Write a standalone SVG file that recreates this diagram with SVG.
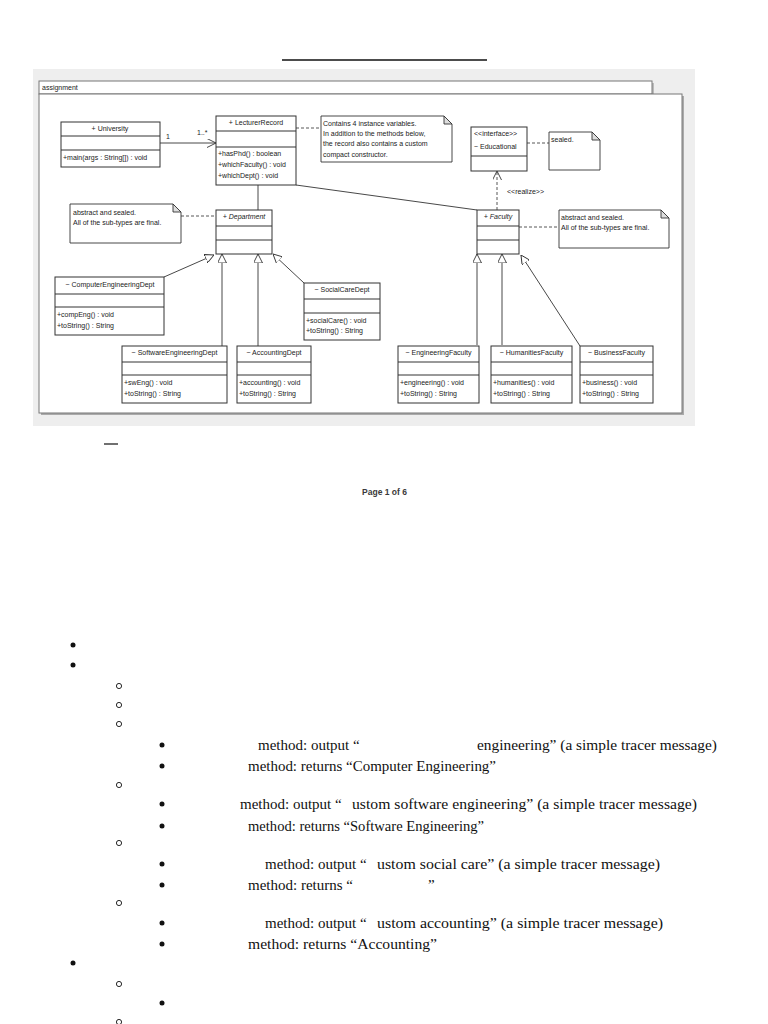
<svg xmlns="http://www.w3.org/2000/svg" width="768" height="1024" viewBox="0 0 768 1024">
<style>
.box{fill:#fff;stroke:#333;stroke-width:1}
.sep{stroke:#333;stroke-width:1}
.t{font-family:"Liberation Sans",Arial,sans-serif;font-size:7px;fill:#222}
.c{text-anchor:middle}
.i{font-style:italic}
.note{fill:#fff;stroke:#333;stroke-width:0.9}
.fold{fill:#ddd;stroke:#333;stroke-width:0.9}
.ln{fill:none;stroke:#333;stroke-width:0.9}
.dash{fill:none;stroke:#444;stroke-width:0.9;stroke-dasharray:3 2}
.s{font-family:"Liberation Serif","Times New Roman",serif;font-size:15px;fill:#111}
.dot{fill:#111}
.ring{fill:none;stroke:#111;stroke-width:0.9}
</style>
<defs>
<marker id="open" viewBox="0 0 10 10" refX="10" refY="5" markerWidth="9" markerHeight="9" markerUnits="userSpaceOnUse" orient="auto">
<path d="M0,0 L10,5 L0,10" fill="none" stroke="#333" stroke-width="1"/>
</marker>
<marker id="tri" viewBox="0 0 10 10" refX="10" refY="5" markerWidth="9" markerHeight="9" markerUnits="userSpaceOnUse" orient="auto">
<path d="M0,0 L10,5 L0,10 Z" fill="#fff" stroke="#333" stroke-width="1"/>
</marker>
</defs>
<rect width="768" height="1024" fill="#fff"/>
<line x1="282" y1="60" x2="487" y2="60" stroke="#111" stroke-width="1.5"/>

<g id="frame">
<rect x="33" y="69" width="662" height="357" fill="#eeeeee"/>
<rect x="41" y="83" width="613" height="13" fill="#bbb"/>
<rect x="41" y="96" width="643" height="319" fill="#aaa"/>
<rect x="39" y="81" width="613" height="13" fill="#fff" stroke="#777" stroke-width="1"/>
<rect x="39" y="94" width="643" height="319" fill="#fff" stroke="#777" stroke-width="1"/>
<text class="t" x="42" y="90">assignment</text>
</g>

<g id="connectors">
<line class="ln" x1="160" y1="143" x2="216" y2="143" marker-end="url(#open)"/>
<text class="t" x="166" y="139">1</text>
<text class="t" x="197" y="135">1..*</text>
<line class="ln" x1="258" y1="185" x2="258" y2="210"/>
<line class="ln" x1="296" y1="185" x2="477" y2="210"/>
<line class="dash" x1="296" y1="128" x2="321" y2="128"/>
<line class="dash" x1="181" y1="216" x2="216" y2="216"/>
<line class="dash" x1="527" y1="143" x2="549" y2="143"/>
<line class="dash" x1="519" y1="227" x2="559" y2="227"/>
<line class="dash" x1="497" y1="210" x2="497" y2="171" marker-end="url(#open)"/>
<text class="t" x="507" y="194">&lt;&lt;realize&gt;&gt;</text>
<line class="ln" x1="164" y1="277" x2="214" y2="255" marker-end="url(#tri)"/>
<line class="ln" x1="222" y1="346" x2="222" y2="254" marker-end="url(#tri)"/>
<line class="ln" x1="258" y1="346" x2="258" y2="254" marker-end="url(#tri)"/>
<line class="ln" x1="304" y1="283" x2="273" y2="254" marker-end="url(#tri)"/>
<line class="ln" x1="477" y1="345" x2="477" y2="254" marker-end="url(#tri)"/>
<line class="ln" x1="502" y1="345" x2="502" y2="254" marker-end="url(#tri)"/>
<line class="ln" x1="580" y1="346" x2="521" y2="255" marker-end="url(#tri)"/>
</g>

<g id="University">
<rect class="box" x="61" y="122" width="99" height="45"/>
<line class="sep" x1="61" y1="136" x2="160" y2="136"/>
<line class="sep" x1="61" y1="150" x2="160" y2="150"/>
<text class="t c" x="110" y="131">+ University</text>
<text class="t" x="63" y="160">+main(args : String[]) : void</text>
</g>

<g id="LecturerRecord">
<rect class="box" x="216" y="116" width="80" height="69"/>
<line class="sep" x1="216" y1="131" x2="296" y2="131"/>
<line class="sep" x1="216" y1="147" x2="296" y2="147"/>
<text class="t c" x="256" y="125">+ LecturerRecord</text>
<text class="t" x="218" y="156">+hasPhd() : boolean</text>
<text class="t" x="218" y="167">+whichFaculty() : void</text>
<text class="t" x="218" y="178">+whichDept() : void</text>
</g>

<g id="NoteLecturer">
<path class="note" d="M321,116 H444 L452,124 V162 H321 Z"/>
<path class="fold" d="M444,116 V124 H452 Z"/>
<text class="t" x="323" y="126">Contains 4 instance variables.</text>
<text class="t" x="323" y="136">In addition to the methods below,</text>
<text class="t" x="323" y="146">the record also contains a custom</text>
<text class="t" x="323" y="157">compact constructor.</text>
</g>

<g id="Educational">
<rect class="box" x="471" y="127" width="56" height="44"/>
<line class="sep" x1="471" y1="156" x2="527" y2="156"/>
<text class="t" x="474" y="136">&lt;&lt;interface&gt;&gt;</text>
<text class="t" x="474" y="149">~ Educational</text>
</g>

<g id="NoteSealed">
<path class="note" d="M549,132 H592 L600,140 V170 H549 Z"/>
<path class="fold" d="M592,132 V140 H600 Z"/>
<text class="t" x="551" y="142">sealed.</text>
</g>

<g id="Department">
<rect class="box" x="216" y="210" width="56" height="44"/>
<line class="sep" x1="216" y1="226" x2="272" y2="226"/>
<line class="sep" x1="216" y1="240" x2="272" y2="240"/>
<text class="t c i" x="244" y="219">+ Department</text>
</g>

<g id="NoteDepartment">
<path class="note" d="M70,204 H173 L181,212 V243 H70 Z"/>
<path class="fold" d="M173,204 V212 H181 Z"/>
<text class="t" x="73" y="215">abstract and sealed.</text>
<text class="t" x="73" y="225">All of the sub-types are final.</text>
</g>

<g id="Faculty">
<rect class="box" x="477" y="210" width="42" height="44"/>
<line class="sep" x1="477" y1="226" x2="519" y2="226" stroke-width="1.5"/>
<line class="sep" x1="477" y1="240" x2="519" y2="240"/>
<text class="t c i" x="498" y="219">+ Faculty</text>
</g>

<g id="NoteFaculty">
<path class="note" d="M559,210 H661 L669,218 V248 H559 Z"/>
<path class="fold" d="M661,210 V218 H669 Z"/>
<text class="t" x="561" y="220">abstract and sealed.</text>
<text class="t" x="561" y="230">All of the sub-types are final.</text>
</g>

<g id="ComputerEngineeringDept">
<rect class="box" x="55" y="277" width="109" height="58"/>
<line class="sep" x1="55" y1="294" x2="164" y2="294"/>
<line class="sep" x1="55" y1="307" x2="164" y2="307"/>
<text class="t c" x="110" y="287">~ ComputerEngineeringDept</text>
<text class="t" x="57" y="317">+compEng() : void</text>
<text class="t" x="57" y="328">+toString() : String</text>
</g>

<g id="SocialCareDept">
<rect class="box" x="304" y="283" width="76" height="57"/>
<line class="sep" x1="304" y1="299" x2="380" y2="299"/>
<line class="sep" x1="304" y1="313" x2="380" y2="313"/>
<text class="t c" x="342" y="292">~ SocialCareDept</text>
<text class="t" x="306" y="323">+socialCare() : void</text>
<text class="t" x="306" y="333">+toString() : String</text>
</g>

<g id="SoftwareEngineeringDept">
<rect class="box" x="122" y="346" width="105" height="57"/>
<line class="sep" x1="122" y1="362" x2="227" y2="362"/>
<line class="sep" x1="122" y1="375" x2="227" y2="375"/>
<text class="t c" x="174.5" y="355">~ SoftwareEngineeringDept</text>
<text class="t" x="124" y="385">+swEng() : void</text>
<text class="t" x="124" y="396">+toString() : String</text>
</g>

<g id="AccountingDept">
<rect class="box" x="237" y="346" width="74" height="57"/>
<line class="sep" x1="237" y1="362" x2="311" y2="362"/>
<line class="sep" x1="237" y1="375" x2="311" y2="375"/>
<text class="t c" x="274" y="355">~ AccountingDept</text>
<text class="t" x="239" y="385">+accounting() : void</text>
<text class="t" x="239" y="396">+toString() : String</text>
</g>

<g id="EngineeringFaculty">
<rect class="box" x="398" y="346" width="81" height="57"/>
<line class="sep" x1="398" y1="362" x2="479" y2="362"/>
<line class="sep" x1="398" y1="375" x2="479" y2="375"/>
<text class="t c" x="438.5" y="355">~ EngineeringFaculty</text>
<text class="t" x="400" y="385">+engineering() : void</text>
<text class="t" x="400" y="396">+toString() : String</text>
</g>

<g id="HumanitiesFaculty">
<rect class="box" x="491" y="346" width="81" height="57"/>
<line class="sep" x1="491" y1="362" x2="572" y2="362"/>
<line class="sep" x1="491" y1="375" x2="572" y2="375"/>
<text class="t c" x="531.5" y="355">~ HumanitiesFaculty</text>
<text class="t" x="493" y="385">+humanities() : void</text>
<text class="t" x="493" y="396">+toString() : String</text>
</g>

<g id="BusinessFaculty">
<rect class="box" x="580" y="346" width="73" height="57"/>
<line class="sep" x1="580" y1="362" x2="653" y2="362"/>
<line class="sep" x1="580" y1="375" x2="653" y2="375"/>
<text class="t c" x="616.5" y="355">~ BusinessFaculty</text>
<text class="t" x="582" y="385">+business() : void</text>
<text class="t" x="582" y="396">+toString() : String</text>
</g>

<line x1="104" y1="444" x2="118" y2="444" stroke="#111" stroke-width="1.2"/>
<text x="384.5" y="495" text-anchor="middle" font-family="'Liberation Sans',Arial,sans-serif" font-size="8.5" font-weight="bold" fill="#3a3a3a">Page 1 of 6</text>

<g id="bullets">
<circle class="dot" cx="73" cy="645" r="2.5"/>
<circle class="dot" cx="73" cy="665" r="2.5"/>
<circle class="ring" cx="119" cy="686" r="2.6"/>
<circle class="ring" cx="119" cy="705" r="2.6"/>
<circle class="ring" cx="119" cy="724" r="2.6"/>
<circle class="dot" cx="162" cy="745" r="2.5"/>
<circle class="dot" cx="162" cy="766" r="2.5"/>
<circle class="ring" cx="119" cy="785" r="2.6"/>
<circle class="dot" cx="162" cy="804" r="2.5"/>
<circle class="dot" cx="162" cy="826" r="2.5"/>
<circle class="ring" cx="119" cy="843" r="2.6"/>
<circle class="dot" cx="162" cy="864" r="2.5"/>
<circle class="dot" cx="162" cy="885" r="2.5"/>
<circle class="ring" cx="119" cy="903" r="2.6"/>
<circle class="dot" cx="162" cy="923" r="2.5"/>
<circle class="dot" cx="162" cy="944" r="2.5"/>
<circle class="dot" cx="73" cy="963" r="2.5"/>
<circle class="ring" cx="119" cy="984" r="2.6"/>
<circle class="dot" cx="162" cy="1003" r="2.5"/>
<circle class="ring" cx="119" cy="1022" r="2.6"/>
</g>

<g id="text">
<text class="s" x="258" y="750">method: output “</text>
<text class="s" x="477" y="750" textLength="240" lengthAdjust="spacingAndGlyphs">engineering” (a simple tracer message)</text>
<text class="s" x="248" y="771" textLength="248" lengthAdjust="spacingAndGlyphs">method: returns “Computer Engineering”</text>
<text class="s" x="240" y="809">method: output “</text>
<text class="s" x="352" y="809" textLength="345" lengthAdjust="spacingAndGlyphs">ustom software engineering” (a simple tracer message)</text>
<text class="s" x="248" y="831" textLength="236" lengthAdjust="spacingAndGlyphs">method: returns “Software Engineering”</text>
<text class="s" x="265" y="869">method: output “</text>
<text class="s" x="377" y="869" textLength="283" lengthAdjust="spacingAndGlyphs">ustom social care” (a simple tracer message)</text>
<text class="s" x="248" y="890">method: returns “</text>
<text class="s" x="428" y="890">”</text>
<text class="s" x="265" y="928">method: output “</text>
<text class="s" x="377" y="928" textLength="286" lengthAdjust="spacingAndGlyphs">ustom accounting” (a simple tracer message)</text>
<text class="s" x="248" y="949" textLength="189" lengthAdjust="spacingAndGlyphs">method: returns “Accounting”</text>
</g>
</svg>
